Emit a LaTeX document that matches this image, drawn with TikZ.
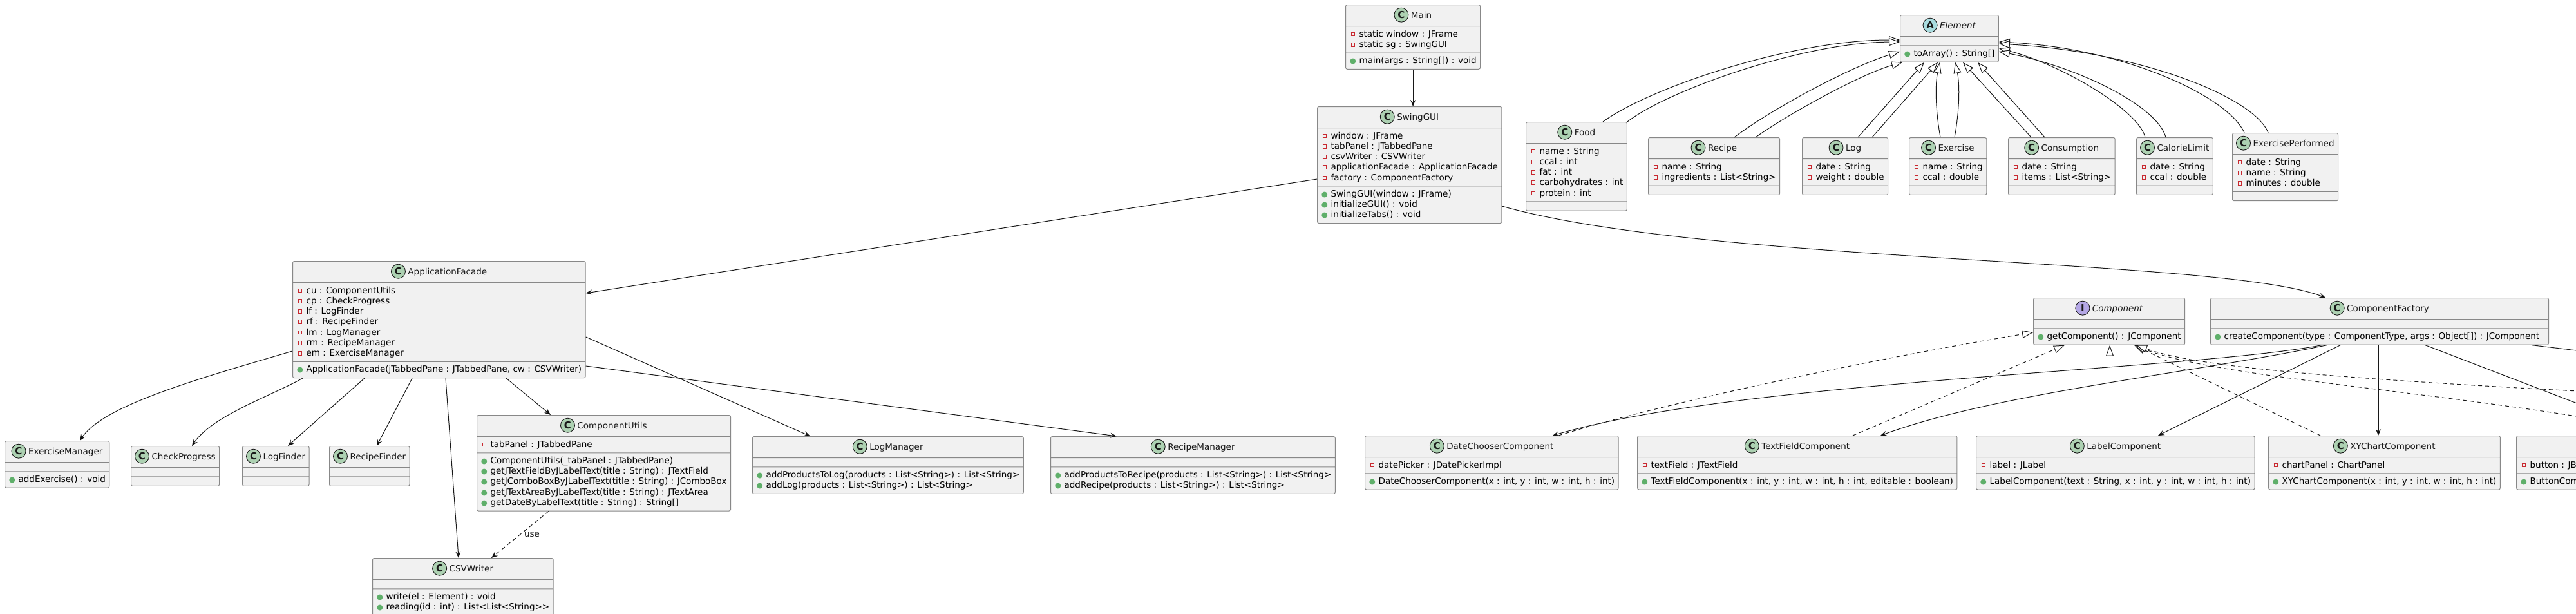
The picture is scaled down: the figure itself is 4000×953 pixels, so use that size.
\documentclass[tikz,border=0pt]{standalone}
\usepackage{fontspec}
\setmainfont{DejaVu Sans}
\usetikzlibrary{shapes.multipart, arrows.meta}
\definecolor{umlFill}{HTML}{F1F1F1}
\definecolor{umlBorder}{HTML}{888888}
\definecolor{umlLine}{HTML}{181818}
\definecolor{spotClass}{HTML}{ADD1B2}
\definecolor{spotAbstract}{HTML}{A9DCDF}
\definecolor{spotIface}{HTML}{B4A7E5}
\definecolor{privRed}{HTML}{C82930}
\definecolor{pubGreen}{HTML}{5FAF6A}
\newcommand{\classfont}{\fontsize{13.5}{16.25}\selectfont}
\newcommand{\rowstrut}{\rule[-4.25pt]{0pt}{16.25pt}}
\newcommand{\privmark}{\raisebox{1.6pt}{\setlength{\fboxsep}{0pt}\setlength{\fboxrule}{0.8pt}\fcolorbox{privRed}{umlFill}{\rule{0pt}{5pt}\hspace{5pt}}}}
\newcommand{\pubmark}{\textcolor{pubGreen}{\fontsize{11.5}{11.5}\selectfont\char"25CF}}
\newcommand{\hdr}[1]{\hspace*{26pt}#1\rule[-8pt]{0pt}{24pt}}
\newcommand{\fld}[1]{\hspace*{2pt}\makebox[6.6pt]{\privmark}\hspace{6.5pt}#1\rowstrut}
\newcommand{\mth}[1]{\hspace*{2pt}\makebox[6.6pt]{\pubmark}\hspace{6.5pt}#1\rowstrut}
\tikzset{
    umlclass/.style={
        rectangle split,
        rectangle split parts=3,
        rectangle split part align={center,left,left},
        rectangle split empty part height=0pt,
        rectangle split empty part depth=0pt,
        rectangle split empty part width=0pt,
        anchor=north west,
        draw=umlBorder,
        line width=1pt,
        fill=umlFill,
        rounded corners=2.5pt,
        inner xsep=6pt,
        inner ysep=4pt,
        align=left,
        font=\classfont,
        text=umlLine
    },
    classicon/.style={
        circle,
        draw=umlLine,
        line width=0.9pt,
        minimum size=22pt,
        inner sep=0pt,
        font=\fontsize{15}{15}\selectfont\bfseries,
        text=umlLine
    },
    assoc/.style={
        draw=umlLine,
        line width=1pt,
        -{Stealth[length=10pt, width=8pt, inset=4pt]}
    },
    extends/.style={
        draw=umlLine,
        line width=1pt,
        -{Triangle[open, fill=white, length=17pt, width=12pt]}
    },
    realize/.style={extends, dash pattern=on 6pt off 5pt},
    depends/.style={assoc, dash pattern=on 6pt off 5pt},
    tag/.style={font=\classfont, text=umlLine, inner sep=2pt}
}
\begin{document}
\begin{tikzpicture}[x=1pt, y=-1pt]
  \useasboundingbox (0,0) rectangle (4000,953);
  \clip (0,0) rectangle (4000,953);
  \fill[white] (0,0) rectangle (4000,953);

  % Entry point and GUI
  \node[umlclass] (main) at (2089,7) {\hdr{Main}%
    \nodepart{two}\fld{static window : JFrame}\\\fld{static sg : SwingGUI}%
    \nodepart{three}\mth{main(args : String[]) : void}};
  \node[umlclass] (swing) at (2045,165) {\hdr{SwingGUI}%
    \nodepart{two}\fld{window : JFrame}\\\fld{tabPanel : JTabbedPane}\\\fld{csvWriter : CSVWriter}\\\fld{applicationFacade : ApplicationFacade}\\\fld{factory : ComponentFactory}%
    \nodepart{three}\mth{SwingGUI(window : JFrame)}\\\mth{initializeGUI() : void}\\\mth{initializeTabs() : void}};

  % Element and its records
  \node[umlclass] (element) at (2950,23) {\hdr{\itshape Element}%
    \nodepart{two}%
    \nodepart{three}\mth{toArray() : String[]}};
  \node[umlclass] (food) at (2369,189) {\hdr{Food}%
    \nodepart{two}\fld{name : String}\\\fld{ccal : int}\\\fld{fat : int}\\\fld{carbohydrates : int}\\\fld{protein : int}%
    \nodepart{three}};
  \node[umlclass] (recipe) at (2559,213) {\hdr{Recipe}%
    \nodepart{two}\fld{name : String}\\\fld{ingredients : List<String>}%
    \nodepart{three}};
  \node[umlclass] (logcls) at (2798,213) {\hdr{Log}%
    \nodepart{two}\fld{date : String}\\\fld{weight : double}%
    \nodepart{three}};
  \node[umlclass] (exercise) at (2964,213) {\hdr{Exercise}%
    \nodepart{two}\fld{name : String}\\\fld{ccal : double}%
    \nodepart{three}};
  \node[umlclass] (consumption) at (3118,213) {\hdr{Consumption}%
    \nodepart{two}\fld{date : String}\\\fld{items : List<String>}%
    \nodepart{three}};
  \node[umlclass] (calorie) at (3317,213) {\hdr{CalorieLimit}%
    \nodepart{two}\fld{date : String}\\\fld{ccal : double}%
    \nodepart{three}};
  \node[umlclass] (experf) at (3466,206) {\hdr{ExercisePerformed}%
    \nodepart{two}\fld{date : String}\\\fld{name : String}\\\fld{minutes : double}%
    \nodepart{three}};

  % Facade and helpers
  \node[umlclass] (facade) at (454,405) {\hdr{ApplicationFacade}%
    \nodepart{two}\fld{cu : ComponentUtils}\\\fld{cp : CheckProgress}\\\fld{lf : LogFinder}\\\fld{rf : RecipeFinder}\\\fld{lm : LogManager}\\\fld{rm : RecipeManager}\\\fld{em : ExerciseManager}%
    \nodepart{three}\mth{ApplicationFacade(jTabbedPane : JTabbedPane, cw : CSVWriter)}};
  \node[umlclass] (exman) at (7,684) {\hdr{ExerciseManager}%
    \nodepart{two}%
    \nodepart{three}\mth{addExercise() : void}};
  \node[umlclass] (checkprog) at (203,692) {\hdr{CheckProgress}\nodepart{two}\nodepart{three}};
  \node[umlclass] (logfinder) at (376,692) {\hdr{LogFinder}\nodepart{two}\nodepart{three}};
  \node[umlclass] (recipefinder) at (511,692) {\hdr{RecipeFinder}\nodepart{two}\nodepart{three}};
  \node[umlclass] (compu) at (740,644) {\hdr{ComponentUtils}%
    \nodepart{two}\fld{tabPanel : JTabbedPane}%
    \nodepart{three}\mth{ComponentUtils(\_tabPanel : JTabbedPane)}\\\mth{getJTextFieldByJLabelText(title : String) : JTextField}\\\mth{getJComboBoxByJLabelText(title : String) : JComboBox}\\\mth{getJTextAreaByJLabelText(title : String) : JTextArea}\\\mth{getDateByLabelText(title : String) : String[]}};
  \node[umlclass] (csvwriter) at (578,866) {\hdr{CSVWriter}%
    \nodepart{two}%
    \nodepart{three}\mth{write(el : Element) : void}\\\mth{reading(id : int) : List<List<String>{}>}};
  \node[umlclass] (logman) at (1168,677) {\hdr{LogManager}%
    \nodepart{two}%
    \nodepart{three}\mth{addProductsToLog(products : List<String>) : List<String>}\\\mth{addLog(products : List<String>) : List<String>}};
  \node[umlclass] (recman) at (1631,677) {\hdr{RecipeManager}%
    \nodepart{two}%
    \nodepart{three}\mth{addProductsToRecipe(products : List<String>) : List<String>}\\\mth{addRecipe(products : List<String>) : List<String>}};

  % Components
  \node[umlclass] (comp) at (3157,462) {\hdr{\itshape Component}%
    \nodepart{two}%
    \nodepart{three}\mth{getComponent() : JComponent}};
  \node[umlclass, minimum width=525pt] (factory) at (3432,462) {\hdr{ComponentFactory}%
    \nodepart{two}%
    \nodepart{three}\mth{createComponent(type : ComponentType, args : Object[]) : JComponent}};
  \node[umlclass] (datech) at (2119,676) {\hdr{DateChooserComponent}%
    \nodepart{two}\fld{datePicker : JDatePickerImpl}%
    \nodepart{three}\mth{DateChooserComponent(x : int, y : int, w : int, h : int)}};
  \node[umlclass] (textf) at (2542,676) {\hdr{TextFieldComponent}%
    \nodepart{two}\fld{textField : JTextField}%
    \nodepart{three}\mth{TextFieldComponent(x : int, y : int, w : int, h : int, editable : boolean)}};
  \node[umlclass] (labelc) at (3068,676) {\hdr{LabelComponent}%
    \nodepart{two}\fld{label : JLabel}%
    \nodepart{three}\mth{LabelComponent(text : String, x : int, y : int, w : int, h : int)}};
  \node[umlclass] (xychart) at (3522,676) {\hdr{XYChartComponent}%
    \nodepart{two}\fld{chartPanel : ChartPanel}%
    \nodepart{three}\mth{XYChartComponent(x : int, y : int, w : int, h : int)}};
  \node[umlclass] (button) at (3907,676) {\hdr{ButtonComponent}%
    \nodepart{two}\fld{button : JButton}%
    \nodepart{three}\mth{ButtonComponent(text : String, x : int, y : int, w : int, h : int)}};
  \coordinate (offright) at (4400,592);
  \coordinate (offfar) at (4700,640);

  % Class spots
  \foreach \cls in {main, swing, food, recipe, logcls, exercise, consumption, calorie, experf, facade, exman, checkprog, logfinder, recipefinder, compu, csvwriter, logman, recman, factory, datech, textf, labelc, xychart, button}
    \node[classicon, fill=spotClass] (\cls-spot) at ([xshift=11pt, yshift=4.8pt]\cls.text) {C};
  \node[classicon, fill=spotAbstract] (element-spot) at ([xshift=11pt, yshift=4.8pt]element.text) {A};
  \node[classicon, fill=spotIface] (comp-spot) at ([xshift=11pt, yshift=4.8pt]comp.text) {I};

  % Associations
  \draw[assoc] (main.south) -- (main.south |- swing.north);
  \draw[assoc] ([yshift=-113pt]swing.north west) -- ([yshift=-50pt]facade.north east);
  \draw[assoc] ([yshift=-155pt]swing.north east) .. controls (2650,410) and (3450,400) .. ([xshift=179pt]factory.north west);
  \draw[assoc] ([yshift=-140pt]facade.north west) .. controls (300,590) and (160,630) .. ([xshift=117pt]exman.north west);
  \draw[assoc] ([xshift=16pt]facade.south west) .. controls (420,615) and (330,645) .. ([xshift=95pt]checkprog.north west);
  \draw[assoc] ([xshift=112pt]facade.south west) -- ([xshift=71pt]logfinder.north west);
  \draw[assoc] ([xshift=186pt]facade.south west) -- ([xshift=74pt]recipefinder.north west);
  \draw[assoc] ([xshift=238pt]facade.south west) -- ([xshift=134pt]csvwriter.north west);
  \draw[assoc] ([xshift=332pt]facade.south west) -- ([xshift=115pt]compu.north west);
  \draw[assoc] ([yshift=-118pt]facade.north east) -- ([xshift=90pt]logman.north west);
  \draw[assoc] ([yshift=-163pt]facade.north east) -- ([xshift=103pt]recman.north west);
  \draw[depends] ([xshift=112pt]compu.south west) -- node[tag, anchor=west, xshift=4pt] {use} ([xshift=185pt]csvwriter.north west);

  % Element family
  \draw[extends] ([xshift=120pt]food.north west) .. controls (2560,137) and (2780,62) .. ([yshift=-39pt]element.north west);
  \draw[extends] (food.north east) .. controls (2590,140) and (2800,66) .. ([yshift=-42pt]element.north west);
  \draw[extends] ([xshift=134pt]recipe.north west) .. controls (2750,170) and (2870,105) .. ([yshift=-57pt]element.north west);
  \draw[extends] ([xshift=167pt]recipe.north west) .. controls (2780,175) and (2890,115) .. ([xshift=4pt]element.south west);
  \draw[extends] ([xshift=87pt]logcls.north west) -- ([xshift=38pt]element.south west);
  \draw[extends] ([xshift=109pt]logcls.north west) -- ([xshift=59pt]element.south west);
  \draw[extends] ([xshift=49pt]exercise.north west) .. controls (3005,170) and (3005,130) .. ([xshift=62pt]element.south west);
  \draw[extends] ([xshift=71pt]exercise.north west) .. controls (3043,170) and (3043,130) .. ([xshift=86pt]element.south west);
  \draw[extends] ([xshift=36pt]consumption.north west) -- ([xshift=98pt]element.south west);
  \draw[extends] ([xshift=57pt]consumption.north west) -- ([xshift=121pt]element.south west);
  \draw[extends] ([xshift=14pt]calorie.north west) .. controls (3320,170) and (3200,100) .. ([yshift=-52pt]element.north east);
  \draw[extends] ([xshift=46pt]calorie.north west) .. controls (3350,165) and (3230,105) .. ([yshift=-57pt]element.north east);
  \draw[extends] ([xshift=19pt]experf.north west) .. controls (3460,150) and (3300,75) .. ([yshift=-42pt]element.north east);
  \draw[extends] ([xshift=56pt]experf.north west) .. controls (3500,150) and (3320,80) .. ([yshift=-45pt]element.north east);

  % Component family
  \draw[realize] ([xshift=301pt]datech.north west) .. controls (2600,620) and (2950,550) .. ([yshift=-54pt]comp.north west);
  \draw[realize] ([xshift=335pt]textf.north west) -- ([xshift=49pt]comp.south west);
  \draw[realize] ([xshift=208pt]labelc.north west) -- ([xshift=119pt]comp.south west);
  \draw[realize] ([xshift=81pt]xychart.north west) -- ([xshift=157pt]comp.south west);
  \draw[realize] ([xshift=260pt]button.north west) .. controls (3850,610) and (3450,590) .. ([xshift=157pt]comp.south west);
  \draw[realize] (offfar) .. controls (3800,600) and (3440,580) .. ([xshift=160pt]comp.south west);
  \draw[assoc] ([xshift=173pt]factory.south west) .. controls (3400,575) and (2700,590) .. ([xshift=292pt]datech.north west);
  \draw[assoc] ([xshift=181pt]factory.south west) .. controls (3400,580) and (3100,610) .. ([xshift=378pt]textf.north west);
  \draw[assoc] ([xshift=202pt]factory.south west) -- ([xshift=283pt]labelc.north west);
  \draw[assoc] ([xshift=261pt]factory.south west) -- ([xshift=171pt]xychart.north west);
  \draw[assoc] ([xshift=334pt]factory.south west) -- ([xshift=225pt]button.north west);
  \draw[assoc] ([xshift=500pt]factory.south west) -- (offright);
\end{tikzpicture}
\end{document}
